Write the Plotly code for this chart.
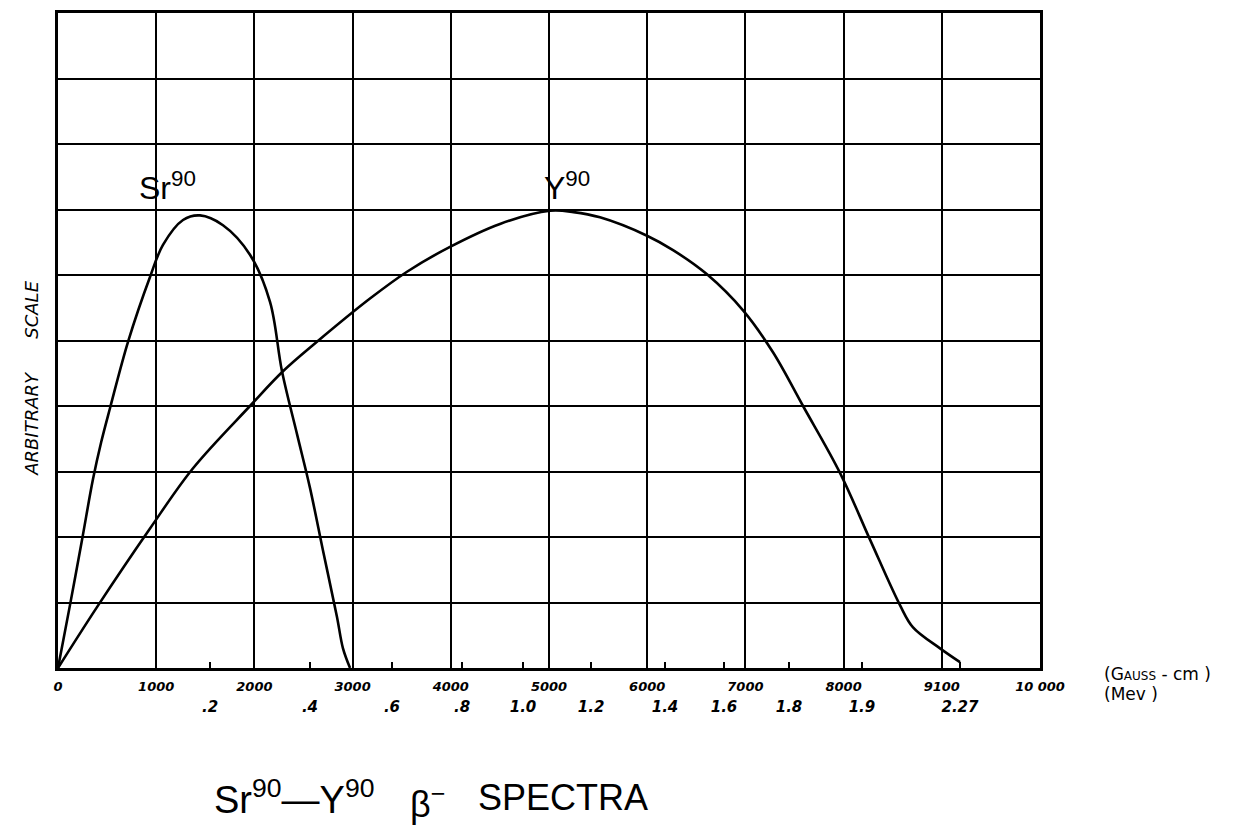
import plotly.graph_objects as go

# ---- data (x in Gauss-cm, y in arbitrary grid units 0-10) ----
sr_x = [0, 122, 244, 356, 440, 530, 713, 937, 1069, 1273, 1446, 1680, 1955, 2159, 2281, 2434, 2566, 2699, 2841, 2902, 2974]
sr_y = [0, 0.96, 1.95, 2.88, 3.45, 3.97, 4.98, 5.97, 6.46, 6.84, 6.91, 6.76, 6.31, 5.59, 4.53, 3.57, 2.75, 1.79, 0.78, 0.30, 0.0]

y_x = [0, 397, 937, 1375, 1955, 2291, 2637, 3177, 3554, 3992, 4501, 5010, 5250, 5519, 5998, 6263, 6609, 6976, 7281, 7587, 7963, 8269, 8574, 8707, 8982, 9185]
y_y = [0, 0.93, 2.13, 3.05, 4.0, 4.53, 4.98, 5.64, 6.05, 6.43, 6.78, 6.98, 6.96, 6.88, 6.60, 6.38, 6.01, 5.46, 4.82, 4.0, 2.98, 1.96, 0.96, 0.62, 0.30, 0.09]

gauss_ticks = [0, 1000, 2000, 3000, 4000, 5000, 6000, 7000, 8000, 9000, 10000]
gauss_labels = ["0", "1000", "2000", "3000", "4000", "5000", "6000", "7000", "8000", "9100", "10 000"]

mev_ticks = [1548, 2566, 3401, 4114, 4735, 5428, 6181, 6782, 7444, 8187, 9185]
mev_labels = [".2", ".4", ".6", ".8", "1.0", "1.2", "1.4", "1.6", "1.8", "1.9", "2.27"]

OFF = 8  # default page body margin
W, H = 1239 - OFF, 836 - OFF
L, T = 58 - OFF, 10 - OFF
pw, ph = 982, 658
R = W - L - pw
B = H - T - ph

def px2paper_x(px):
    return (px - OFF - L) / pw

def px2paper_y(py):
    return (T + ph - (py - OFF)) / ph

fig = go.Figure()
line_style = dict(color="black", width=2.6, shape="spline", smoothing=1.0)
fig.add_trace(go.Scatter(x=sr_x, y=sr_y, mode="lines", line=line_style, showlegend=False, hoverinfo="skip"))
fig.add_trace(go.Scatter(x=y_x, y=y_y, mode="lines", line=line_style, showlegend=False, hoverinfo="skip"))
# invisible trace for the MeV axis
fig.add_trace(go.Scatter(x=[0, 10000], y=[0, 0], xaxis="x2", mode="lines", line=dict(width=0), showlegend=False, hoverinfo="skip"))

fig.update_layout(
    width=W, height=H,
    margin=dict(l=L, r=R, t=T, b=B),
    paper_bgcolor="white", plot_bgcolor="white",
    xaxis=dict(range=[0, 10000], tickvals=gauss_ticks, ticktext=gauss_labels,
               showgrid=True, gridcolor="black", gridwidth=2.2,
               showline=True, linecolor="black", linewidth=2.6, mirror=True,
               ticks="", tickfont=dict(family="DejaVu Sans", size=13, color="black", style="italic", weight="bold"),
               ticklabelstandoff=5, zeroline=False),
    xaxis2=dict(range=[0, 10000], overlaying="x", anchor="y", side="bottom",
                tickvals=mev_ticks, ticktext=mev_labels, showgrid=False,
                ticks="inside", ticklen=6, tickwidth=2, tickcolor="black",
                tickfont=dict(family="DejaVu Sans", size=15, color="black", style="italic", weight="bold"),
                ticklabelstandoff=28, showline=False, zeroline=False),
    yaxis=dict(range=[0, 10], dtick=1, showticklabels=False,
               showgrid=True, gridcolor="black", gridwidth=1.6,
               showline=True, linecolor="black", linewidth=2.6, mirror=True,
               ticks="", zeroline=False),
)

ann = []
ann.append(dict(text="ARBITRARY&nbsp;&nbsp;&nbsp;&nbsp;&nbsp;&nbsp;SCALE", xref="paper", yref="paper",
                x=px2paper_x(19), y=px2paper_y(377), textangle=-90, showarrow=False,
                font=dict(family="DejaVu Sans", size=18, color="black", style="italic")))
ann.append(dict(text="(G<span style='font-size:12px'>AUSS</span> - cm )", xref="paper", yref="paper",
                x=px2paper_x(1102), y=px2paper_y(674), xanchor="left", yanchor="middle", showarrow=False,
                font=dict(family="DejaVu Sans", size=17, color="black")))
ann.append(dict(text="(Mev )", xref="paper", yref="paper",
                x=px2paper_x(1102), y=px2paper_y(694), xanchor="left", yanchor="middle", showarrow=False,
                font=dict(family="DejaVu Sans", size=17, color="black")))
ann.append(dict(text="Sr<sup>90</sup>", xref="x", yref="y", x=804, y=(668 - 184) / 65.8,
                xanchor="left", yanchor="middle", showarrow=False,
                font=dict(family="Liberation Sans", size=32, color="black")))
ann.append(dict(text="Y<sup>90</sup>", xref="x", yref="y", x=4930, y=(668 - 184) / 65.8,
                xanchor="left", yanchor="middle", showarrow=False,
                font=dict(family="Liberation Sans", size=32, color="black")))
ann.append(dict(text="Sr<sup>90</sup>—Y<sup>90</sup>", xref="paper", yref="paper",
                x=px2paper_x(212), y=px2paper_y(798), xanchor="left", yanchor="middle", showarrow=False,
                font=dict(family="Liberation Sans", size=38, color="black")))
ann.append(dict(text="β<sup>−</sup>", xref="paper", yref="paper",
                x=px2paper_x(408), y=px2paper_y(803), xanchor="left", yanchor="middle", showarrow=False,
                font=dict(family="Liberation Sans", size=36, color="black")))
ann.append(dict(text="SPECTRA", xref="paper", yref="paper",
                x=px2paper_x(476), y=px2paper_y(798), xanchor="left", yanchor="middle", showarrow=False,
                font=dict(family="Liberation Sans", size=36, color="black")))
fig.update_layout(annotations=ann)

fig.write_html("out.html")
